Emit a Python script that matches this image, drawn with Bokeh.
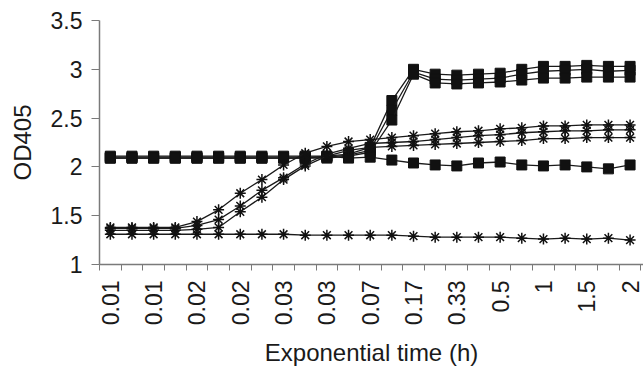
from bokeh.plotting import figure
from bokeh.models import Range1d, FixedTicker, CustomJSTickFormatter
from bokeh.embed import file_html
from bokeh.resources import INLINE
import math

# ---- data ----
time_labels = ["0.01", "0.01", "0.02", "0.02", "0.03", "0.03", "0.07",
               "0.17", "0.33", "0.5", "1", "1.5", "2"]   # shown on every other category
n_points = 25

sq_a1 = [2.11, 2.11, 2.11, 2.11, 2.11, 2.11, 2.11, 2.11, 2.11, 2.11, 2.11, 2.13, 2.20,
         2.68, 3.00, 2.95, 2.94, 2.95, 2.96, 3.00, 3.03, 3.03, 3.04, 3.03, 3.03]
sq_a2 = [2.10, 2.10, 2.10, 2.10, 2.10, 2.10, 2.10, 2.10, 2.10, 2.10, 2.10, 2.12, 2.17,
         2.58, 2.97, 2.90, 2.89, 2.90, 2.91, 2.95, 2.98, 2.99, 3.00, 2.98, 2.99]
sq_a3 = [2.09, 2.09, 2.09, 2.09, 2.09, 2.09, 2.09, 2.09, 2.09, 2.09, 2.09, 2.11, 2.15,
         2.48, 2.95, 2.86, 2.85, 2.86, 2.87, 2.89, 2.91, 2.91, 2.92, 2.92, 2.92]
sq_b = [2.09, 2.09, 2.09, 2.09, 2.09, 2.09, 2.09, 2.09, 2.09, 2.09, 2.11, 2.09, 2.10,
        2.07, 2.04, 2.02, 2.01, 2.04, 2.05, 2.02, 2.01, 2.02, 2.00, 1.98, 2.02]
st_c1 = [1.38, 1.38, 1.38, 1.38, 1.44, 1.56, 1.73, 1.87, 2.02, 2.14, 2.21, 2.26, 2.28,
         2.30, 2.32, 2.34, 2.36, 2.37, 2.39, 2.40, 2.42, 2.42, 2.43, 2.43, 2.43]
st_c2 = [1.37, 1.37, 1.37, 1.37, 1.40, 1.46, 1.60, 1.76, 1.89, 2.03, 2.13, 2.19, 2.24,
         2.25, 2.26, 2.28, 2.30, 2.32, 2.33, 2.35, 2.36, 2.37, 2.37, 2.38, 2.38]
st_c3 = [1.35, 1.35, 1.35, 1.35, 1.36, 1.38, 1.54, 1.69, 1.87, 2.01, 2.11, 2.17, 2.20,
         2.21, 2.22, 2.23, 2.24, 2.25, 2.26, 2.27, 2.29, 2.29, 2.30, 2.30, 2.30]
st_d = [1.31, 1.31, 1.31, 1.31, 1.31, 1.31, 1.31, 1.31, 1.31, 1.30, 1.30, 1.30, 1.30,
        1.30, 1.29, 1.28, 1.28, 1.28, 1.28, 1.27, 1.26, 1.27, 1.26, 1.27, 1.25]

y_ticks = [1, 1.5, 2, 2.5, 3, 3.5]

x = list(range(n_points))

FONT = "Liberation Sans"
LINE = "#1a1a1a"
AXIS = "#7a7a7a"

p = figure(width=643, height=369, output_backend="svg", toolbar_location=None,
           x_range=Range1d(-0.5, 24.62), y_range=Range1d(1, 3.5),
           min_border_left=99, min_border_top=20, min_border_right=0,
           min_border_bottom=105)
p.outline_line_color = None
p.grid.visible = False
p.background_fill_color = "white"
p.border_fill_color = "white"

for series in [sq_a1, sq_a2, sq_a3, sq_b]:
    p.line(x, series, line_color=LINE, line_width=1.3)
    p.scatter(x, series, marker="square", size=10, fill_color="#111111",
              line_color="#111111")
for series in [st_c1, st_c2, st_c3, st_d]:
    p.line(x, series, line_color=LINE, line_width=1.3)
    p.scatter(x, series, marker="asterisk", size=11, line_color="#111111",
              line_width=1.5)

# x axis: labels on every other category centre, tick marks between categories
xa = p.xaxis[0]
label_pos = list(range(0, n_points, 2))
xa.ticker = FixedTicker(ticks=label_pos,
                        minor_ticks=[i - 0.5 for i in range(n_points + 1)])
xa.major_label_overrides = {pos: lab for pos, lab in zip(label_pos, time_labels)}
xa.major_label_orientation = math.pi / 2
xa.major_tick_out = 0
xa.major_tick_in = 0
xa.minor_tick_out = 6
xa.minor_tick_in = 0
xa.minor_tick_line_color = AXIS
xa.axis_line_color = AXIS
xa.axis_line_width = 1.5
xa.major_label_standoff = 10
xa.axis_label = "Exponential time (h)"
xa.axis_label_standoff = 11

ya = p.yaxis[0]
ya.ticker = FixedTicker(ticks=y_ticks, minor_ticks=[])
ya.formatter = CustomJSTickFormatter(code="return String(tick);")
ya.major_tick_out = 8
ya.major_tick_in = 0
ya.major_tick_line_color = AXIS
ya.axis_line_color = AXIS
ya.axis_line_width = 1.5
ya.major_label_standoff = 9
ya.axis_label = "OD405"
ya.axis_label_standoff = 12

for ax in [xa, ya]:
    ax.major_label_text_font = FONT
    ax.major_label_text_font_size = "23px"
    ax.major_label_text_color = "#1a1a1a"
    ax.axis_label_text_font = FONT
    ax.axis_label_text_font_size = "24px"
    ax.axis_label_text_font_style = "normal"
    ax.axis_label_text_color = "#1a1a1a"

open("out.html", "w").write(file_html(p, INLINE))
